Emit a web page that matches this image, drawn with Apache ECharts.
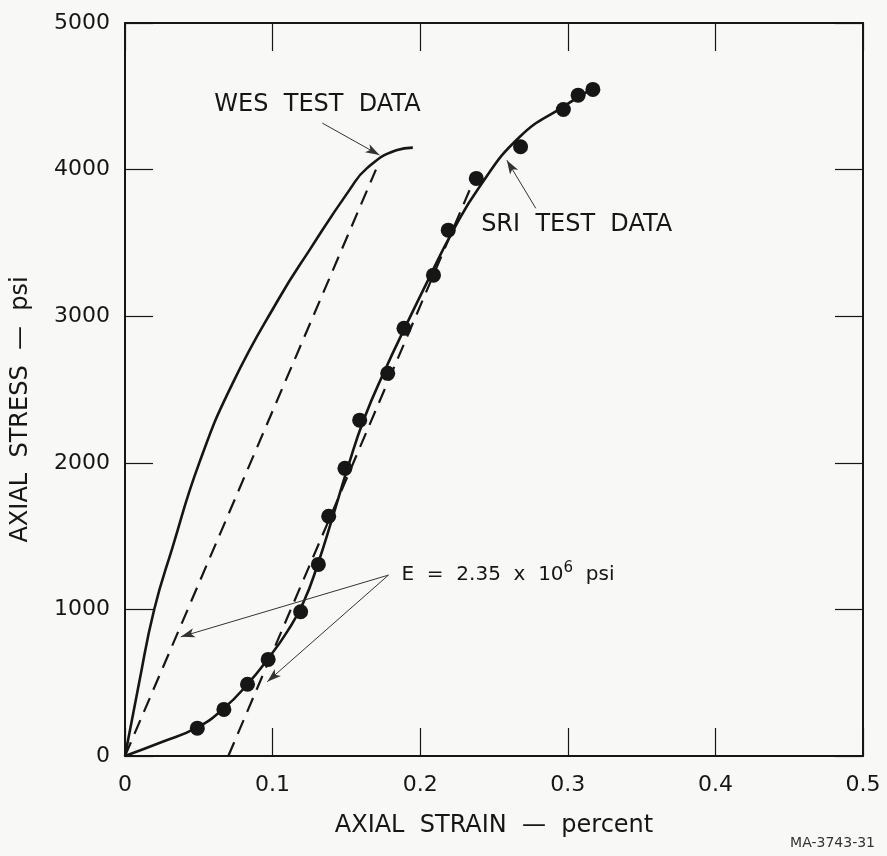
<!DOCTYPE html>
<html>
<head>
<meta charset="utf-8">
<script src="https://cdn.jsdelivr.net/npm/echarts@6/dist/echarts.min.js"></script>
<style>
  html, body { margin: 0; padding: 0; background: #f8f8f6; }
  #chart { width: 887px; height: 856px; }
</style>
</head>
<body>
<div id="chart"></div>
<script>
// axes
const xTicks = [0, 0.1, 0.2, 0.3, 0.4, 0.5];
const yTicks = [0, 1000, 2000, 3000, 4000, 5000];

// WES test data curve (strain %, stress psi)
const wesCurve = [
  [0, 0], [0.0095, 496], [0.0197, 996], [0.0321, 1420],
  [0.0502, 1996], [0.0729, 2542], [0.1045, 3124], [0.125, 3451],
  [0.152, 3860], [0.164, 4010], [0.1838, 4132], [0.195, 4150]
];

// SRI measured points
const sriPoints = [
  [0.049, 190], [0.067, 318], [0.083, 489], [0.097, 659], [0.119, 984],
  [0.131, 1307], [0.138, 1635], [0.149, 1962], [0.159, 2291], [0.178, 2610],
  [0.189, 2917], [0.209, 3280], [0.219, 3587], [0.238, 3940], [0.268, 4156],
  [0.297, 4410], [0.307, 4508], [0.317, 4547]
];

// SRI fitted curve
const sriCurve = [
  [0, 0], [0.025, 95], [0.049, 195], [0.067, 325], [0.083, 490], [0.097, 665],
  [0.110, 850], [0.121, 1050], [0.131, 1320], [0.141, 1640], [0.151, 1970],
  [0.162, 2300], [0.176, 2630], [0.191, 2950], [0.206, 3260], [0.221, 3560],
  [0.240, 3880], [0.2675, 4224], [0.297, 4430], [0.318, 4560]
];

// modulus lines, E = 2.35e6 psi
const wesModulus = [[0, 0], [0.17, 4000]];
const sriModulus = [[0.07, 0], [0.236, 3920]];

// annotation arrows: [from, to]
const arrows = [
  [[0.1337, 4317], [0.1724, 4099]],
  [[0.2783, 3736], [0.2587, 4064]],
  [[0.1785, 1234], [0.0378, 813]],
  [[0.1785, 1234], [0.0964, 507]]
];

// annotation texts: [x, y, text, align]
const notes = [
  [0.1304, 4439, 'WES  TEST  DATA', 'center'],
  [0.306, 3627, 'SRI  TEST  DATA', 'center'],
  [0.187, 1235, 'E  =  2.35  x  10{sup|6}  psi', 'left']
];

const font = 'DejaVu Sans';
const ink = '#161616';

const chart = echarts.init(document.getElementById('chart'));

const axisCommon = {
  min: 0,
  axisLine: { show: true, onZero: false, lineStyle: { color: ink, width: 2 } },
  axisTick: { show: true, inside: true, length: 28, lineStyle: { color: ink, width: 1.2 } },
  splitLine: { show: false }
};

const option = {
  backgroundColor: '#f8f8f6',
  animation: false,
  grid: { left: 125, right: 24, top: 23, bottom: 100 },
  xAxis: [
    Object.assign({}, axisCommon, {
      type: 'value', position: 'bottom', max: xTicks[xTicks.length - 1], interval: 0.1,
      name: 'AXIAL  STRAIN  —  percent',
      nameLocation: 'middle', nameGap: 58,
      nameTextStyle: { fontFamily: font, fontSize: 24, color: ink },
      axisLabel: { fontFamily: font, fontSize: 22, color: ink, margin: 18,
        formatter: v => String(v) }
    }),
    Object.assign({}, axisCommon, {
      type: 'value', position: 'top', max: xTicks[xTicks.length - 1], interval: 0.1,
      axisLabel: { show: false }
    })
  ],
  yAxis: [
    Object.assign({}, axisCommon, {
      type: 'value', position: 'left', max: yTicks[yTicks.length - 1], interval: 1000,
      name: 'AXIAL  STRESS  —  psi',
      nameLocation: 'middle', nameGap: 92,
      nameTextStyle: { fontFamily: font, fontSize: 24, color: ink, padding: [0, 40, 0, 0] },
      axisLabel: { fontFamily: font, fontSize: 22, color: ink, margin: 15,
        formatter: v => String(v) }
    }),
    Object.assign({}, axisCommon, {
      type: 'value', position: 'right', max: yTicks[yTicks.length - 1], interval: 1000,
      axisLabel: { show: false }
    })
  ],
  series: [
    {
      name: 'WES', type: 'line', data: wesCurve, showSymbol: false,
      smooth: 0.5,
      lineStyle: { color: ink, width: 2.6 }
    },
    {
      name: 'SRI curve', type: 'line', data: sriCurve, showSymbol: false,
      smooth: 0.5,
      lineStyle: { color: ink, width: 2.6 }
    },
    {
      name: 'SRI points', type: 'scatter', data: sriPoints,
      symbol: 'circle', symbolSize: 15,
      itemStyle: { color: ink, opacity: 1 }
    },
    {
      name: 'WES modulus', type: 'line', data: wesModulus, showSymbol: false,
      lineStyle: { color: ink, width: 2.2, type: [15, 9] }
    },
    {
      name: 'SRI modulus', type: 'line', data: sriModulus, showSymbol: false,
      lineStyle: { color: ink, width: 2.2, type: [15, 9] }
    },
    {
      name: 'notes', type: 'line', data: [], silent: true,
      markLine: {
        silent: true,
        symbol: ['none', 'arrow'],
        symbolSize: [7, 14],
        label: { show: false },
        lineStyle: { color: '#333', width: 1, type: 'solid' },
        data: arrows.map(a => [{ coord: a[0] }, { coord: a[1] }])
      },
      markPoint: {
        silent: true,
        symbol: 'rect', symbolSize: 1,
        itemStyle: { color: 'rgba(0,0,0,0)' },
        data: notes.map(n => ({
          coord: [n[0], n[1]],
          label: {
            show: true,
            position: n[3] === 'left' ? 'right' : 'inside',
            distance: 0,
            formatter: n[2],
            fontFamily: font,
            fontSize: n[3] === 'left' ? 20 : 24,
            color: ink,
            rich: {
              sup: { fontFamily: font, fontSize: 15, color: ink, padding: [0, 0, 14, 0] }
            }
          }
        }))
      }
    }
  ],
  graphic: [
    {
      type: 'text', right: 12, bottom: 6,
      style: { text: 'MA-3743-31', font: '14px "DejaVu Sans"', fill: '#333' }
    }
  ]
};

chart.setOption(option);
</script>
</body>
</html>
